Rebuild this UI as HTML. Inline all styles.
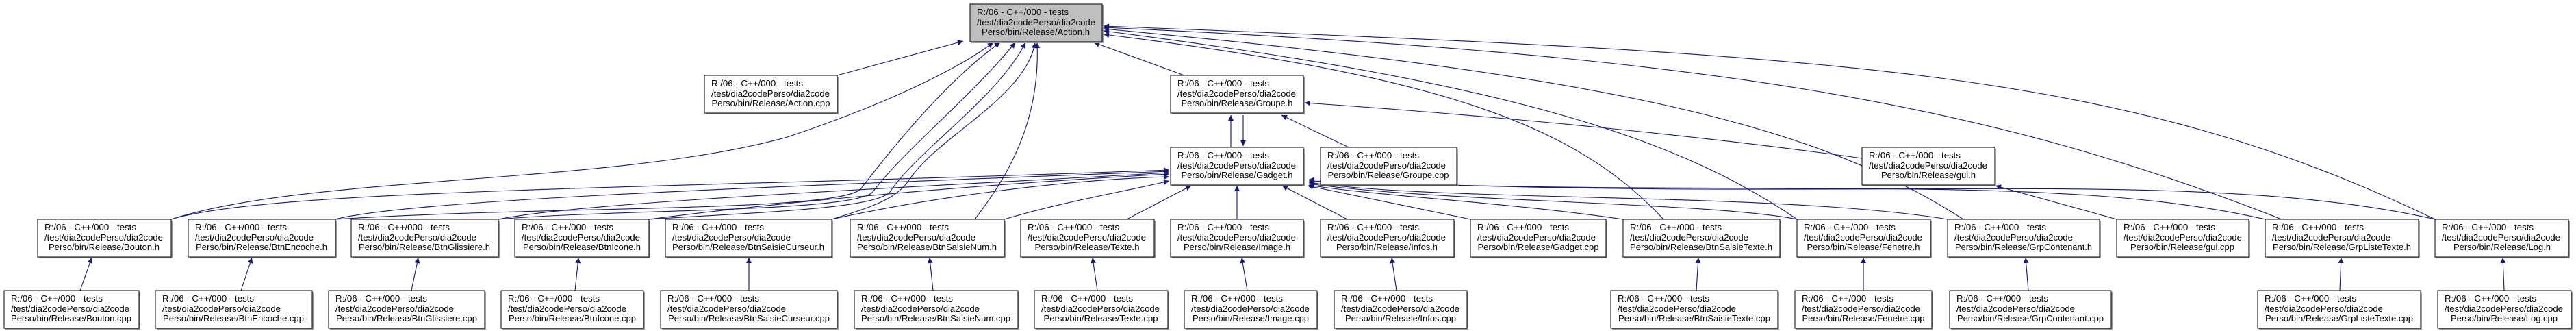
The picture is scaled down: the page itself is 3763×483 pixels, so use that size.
<!DOCTYPE html>
<html><head><meta charset="utf-8"><style>
html,body{margin:0;padding:0;background:#fff;}
svg{display:block;}
text{font-family:"Liberation Sans",sans-serif;font-size:13px;fill:#000;}
</style></head><body>
<svg width="3763" height="483" viewBox="0 0 3763 483" xmlns="http://www.w3.org/2000/svg">
<defs>
<marker id="a" viewBox="0 0 10 10" refX="10" refY="5" markerWidth="10" markerHeight="8" markerUnits="userSpaceOnUse" orient="auto"><path d="M0,0 L10,5 L0,10 z" fill="#191970"/></marker>
</defs>
<g fill="none" stroke="#191970" stroke-width="1.1" marker-end="url(#a)">
<!-- to Action.h -->
<path d="M1223,110 L1407,60"/>
<path d="M250,320 C450,255 900,270 1150,200 C1300,150 1400,100 1451,62"/>
<path d="M490,320 C800,300 1230,310 1258,275 C1300,220 1380,120 1461,62"/>
<path d="M728,320 C900,305 1250,310 1275,280 C1320,220 1420,140 1483,62"/>
<path d="M948,320 C1100,310 1280,305 1300,280 C1340,220 1460,140 1498,62"/>
<path d="M1215,320 C1280,300 1310,290 1330,260 C1370,200 1500,140 1512,62"/>
<path d="M1424,320 C1470,260 1520,180 1515,62"/>
<path d="M1730,110 L1598,62"/>
<path d="M2430,320 C2300,180 2100,110 1612,50"/>
<path d="M2625,320 C2450,200 2200,120 1612,45"/>
<path d="M2868,320 C2650,180 2350,110 1612,42"/>
<path d="M3333,320 C2900,150 2500,80 1612,40"/>
<path d="M3557,320 C3100,100 2700,80 1612,38"/>
<!-- Groupe -->
<path d="M1798,215 L1798,168"/>
<path d="M1816,168 L1816,213"/>
<path d="M1970,215 L1872,168"/>
<path d="M2720,231 C2500,200 2200,170 1906,150"/>
<path d="M3092,320 L2915,271"/>
<!-- to Gadget.h -->
<path d="M250,320 C400,275 1000,275 1708,248"/>
<path d="M490,320 C600,290 1200,270 1708,250"/>
<path d="M728,320 C850,295 1300,275 1708,252"/>
<path d="M948,320 C1100,300 1400,270 1708,254"/>
<path d="M1215,320 C1350,290 1550,262 1708,258"/>
<path d="M1467,320 C1550,295 1650,278 1708,264"/>
<path d="M1646,320 L1740,271"/>
<path d="M1807,320 L1807,271"/>
<path d="M1968,320 L1873,271"/>
<path d="M2148,320 L1910,271"/>
<path d="M2371,320 C2200,295 2000,285 1912,270"/>
<path d="M2625,320 C2500,295 2100,295 1912,268"/>
<path d="M2845,320 C2600,280 2100,295 1912,266"/>
<path d="M3309,320 C3000,250 2600,290 1912,264"/>
<path d="M3557,320 C3200,240 2700,300 1912,262"/>
<!-- cpp to h -->
<path d="M117,424 L134,376"/>
<path d="M352,424 L368,376"/>
<path d="M601,424 L611,376"/>
<path d="M840,424 L845,376"/>
<path d="M1094,424 L1094,376"/>
<path d="M1363,424 L1358,376"/>
<path d="M1603,424 L1596,376"/>
<path d="M1822,424 L1814,376"/>
<path d="M2040,424 L2033,376"/>
<path d="M2478,424 L2481,376"/>
<path d="M2722,424 L2722,376"/>
<path d="M2963,424 L2959,376"/>
<path d="M3418,424 L3420,376"/>
<path d="M3658,424 L3656,376"/>
</g>
<g id="nodes">
<!-- node helper: shadow + rect -->
<g fill="#999"><rect x="1419" y="8" width="193" height="55"/></g>
<rect x="1417" y="6" width="193" height="55" fill="#bfbfbf" stroke="#000"/>
<text x="1427" y="22" textLength="134" lengthAdjust="spacingAndGlyphs">R:/06 - C++/000 - tests</text>
<text x="1427" y="37" textLength="173" lengthAdjust="spacingAndGlyphs">/test/dia2codePerso/dia2code</text>
<text x="1513" y="51" text-anchor="middle" textLength="158" lengthAdjust="spacingAndGlyphs">Perso/bin/Release/Action.h</text>
</g>
<g>
<g fill="#999">
<rect x="1031" y="112" width="194" height="55"/><rect x="1712" y="112" width="194" height="55"/>
<rect x="1712" y="217" width="194" height="55"/><rect x="1931" y="217" width="199" height="55"/><rect x="2722" y="217" width="194" height="55"/>
<rect x="57" y="322" width="195" height="55"/><rect x="277" y="322" width="215" height="55"/><rect x="515" y="322" width="215" height="55"/><rect x="754" y="322" width="196" height="55"/><rect x="974" y="322" width="243" height="55"/><rect x="1244" y="322" width="225" height="55"/><rect x="1493" y="322" width="195" height="55"/><rect x="1712" y="322" width="194" height="55"/><rect x="1931" y="322" width="195" height="55"/><rect x="2150" y="322" width="198" height="55"/><rect x="2373" y="322" width="229" height="55"/><rect x="2627" y="322" width="195" height="55"/><rect x="2847" y="322" width="222" height="55"/><rect x="3094" y="322" width="193" height="55"/><rect x="3311" y="322" width="224" height="55"/><rect x="3559" y="322" width="195" height="55"/>
<rect x="8" y="426" width="197" height="55"/><rect x="229" y="426" width="229" height="55"/><rect x="482" y="426" width="228" height="55"/><rect x="734" y="426" width="208" height="55"/><rect x="967" y="426" width="258" height="55"/><rect x="1250" y="426" width="239" height="55"/><rect x="1513" y="426" width="195" height="55"/><rect x="1732" y="426" width="194" height="55"/><rect x="1951" y="426" width="194" height="55"/><rect x="2355" y="426" width="244" height="55"/><rect x="2624" y="426" width="200" height="55"/><rect x="2850" y="426" width="236" height="55"/><rect x="3300" y="426" width="238" height="55"/><rect x="3563" y="426" width="195" height="55"/>
</g>
<g fill="#fff" stroke="#000">
<rect x="1029" y="110" width="194" height="55"/><rect x="1710" y="110" width="194" height="55"/>
<rect x="1710" y="215" width="194" height="55"/><rect x="1929" y="215" width="199" height="55"/><rect x="2720" y="215" width="194" height="55"/>
<rect x="55" y="320" width="195" height="55"/><rect x="275" y="320" width="215" height="55"/><rect x="513" y="320" width="215" height="55"/><rect x="752" y="320" width="196" height="55"/><rect x="972" y="320" width="243" height="55"/><rect x="1242" y="320" width="225" height="55"/><rect x="1491" y="320" width="195" height="55"/><rect x="1710" y="320" width="194" height="55"/><rect x="1929" y="320" width="195" height="55"/><rect x="2148" y="320" width="198" height="55"/><rect x="2371" y="320" width="229" height="55"/><rect x="2625" y="320" width="195" height="55"/><rect x="2845" y="320" width="222" height="55"/><rect x="3092" y="320" width="193" height="55"/><rect x="3309" y="320" width="224" height="55"/><rect x="3557" y="320" width="195" height="55"/>
<rect x="6" y="424" width="197" height="55"/><rect x="227" y="424" width="229" height="55"/><rect x="480" y="424" width="228" height="55"/><rect x="732" y="424" width="208" height="55"/><rect x="965" y="424" width="258" height="55"/><rect x="1248" y="424" width="239" height="55"/><rect x="1511" y="424" width="195" height="55"/><rect x="1730" y="424" width="194" height="55"/><rect x="1949" y="424" width="194" height="55"/><rect x="2353" y="424" width="244" height="55"/><rect x="2622" y="424" width="200" height="55"/><rect x="2848" y="424" width="236" height="55"/><rect x="3298" y="424" width="238" height="55"/><rect x="3561" y="424" width="195" height="55"/>
</g>
</g>
<g font-size="13">
<!-- row2 -->
<text x="1039" y="126" textLength="134" lengthAdjust="spacingAndGlyphs">R:/06 - C++/000 - tests</text><text x="1039" y="141" textLength="173" lengthAdjust="spacingAndGlyphs">/test/dia2codePerso/dia2code</text><text x="1126" y="155" text-anchor="middle" textLength="173" lengthAdjust="spacingAndGlyphs">Perso/bin/Release/Action.cpp</text>
<text x="1720" y="126" textLength="134" lengthAdjust="spacingAndGlyphs">R:/06 - C++/000 - tests</text><text x="1720" y="141" textLength="173" lengthAdjust="spacingAndGlyphs">/test/dia2codePerso/dia2code</text><text x="1807" y="155" text-anchor="middle" textLength="163" lengthAdjust="spacingAndGlyphs">Perso/bin/Release/Groupe.h</text>
<!-- row 2.5 -->
<text x="1720" y="231" textLength="134" lengthAdjust="spacingAndGlyphs">R:/06 - C++/000 - tests</text><text x="1720" y="246" textLength="173" lengthAdjust="spacingAndGlyphs">/test/dia2codePerso/dia2code</text><text x="1807" y="260" text-anchor="middle" textLength="163" lengthAdjust="spacingAndGlyphs">Perso/bin/Release/Gadget.h</text>
<text x="1939" y="231" textLength="134" lengthAdjust="spacingAndGlyphs">R:/06 - C++/000 - tests</text><text x="1939" y="246" textLength="173" lengthAdjust="spacingAndGlyphs">/test/dia2codePerso/dia2code</text><text x="2028" y="260" text-anchor="middle" textLength="177" lengthAdjust="spacingAndGlyphs">Perso/bin/Release/Groupe.cpp</text>
<text x="2730" y="231" textLength="134" lengthAdjust="spacingAndGlyphs">R:/06 - C++/000 - tests</text><text x="2730" y="246" textLength="173" lengthAdjust="spacingAndGlyphs">/test/dia2codePerso/dia2code</text><text x="2817" y="260" text-anchor="middle" textLength="138" lengthAdjust="spacingAndGlyphs">Perso/bin/Release/gui.h</text>
<!-- row3 -->
<text x="65" y="336" textLength="134" lengthAdjust="spacingAndGlyphs">R:/06 - C++/000 - tests</text><text x="65" y="351" textLength="173" lengthAdjust="spacingAndGlyphs">/test/dia2codePerso/dia2code</text><text x="152" y="365" text-anchor="middle" textLength="162" lengthAdjust="spacingAndGlyphs">Perso/bin/Release/Bouton.h</text>
<text x="285" y="336" textLength="134" lengthAdjust="spacingAndGlyphs">R:/06 - C++/000 - tests</text><text x="285" y="351" textLength="173" lengthAdjust="spacingAndGlyphs">/test/dia2codePerso/dia2code</text><text x="382" y="365" text-anchor="middle" textLength="192" lengthAdjust="spacingAndGlyphs">Perso/bin/Release/BtnEncoche.h</text>
<text x="523" y="336" textLength="134" lengthAdjust="spacingAndGlyphs">R:/06 - C++/000 - tests</text><text x="523" y="351" textLength="173" lengthAdjust="spacingAndGlyphs">/test/dia2codePerso/dia2code</text><text x="620" y="365" text-anchor="middle" textLength="192" lengthAdjust="spacingAndGlyphs">Perso/bin/Release/BtnGlissiere.h</text>
<text x="762" y="336" textLength="134" lengthAdjust="spacingAndGlyphs">R:/06 - C++/000 - tests</text><text x="762" y="351" textLength="173" lengthAdjust="spacingAndGlyphs">/test/dia2codePerso/dia2code</text><text x="850" y="365" text-anchor="middle" textLength="172" lengthAdjust="spacingAndGlyphs">Perso/bin/Release/BtnIcone.h</text>
<text x="982" y="336" textLength="134" lengthAdjust="spacingAndGlyphs">R:/06 - C++/000 - tests</text><text x="982" y="351" textLength="173" lengthAdjust="spacingAndGlyphs">/test/dia2codePerso/dia2code</text><text x="1093" y="365" text-anchor="middle" textLength="222" lengthAdjust="spacingAndGlyphs">Perso/bin/Release/BtnSaisieCurseur.h</text>
<text x="1252" y="336" textLength="134" lengthAdjust="spacingAndGlyphs">R:/06 - C++/000 - tests</text><text x="1252" y="351" textLength="173" lengthAdjust="spacingAndGlyphs">/test/dia2codePerso/dia2code</text><text x="1354" y="365" text-anchor="middle" textLength="204" lengthAdjust="spacingAndGlyphs">Perso/bin/Release/BtnSaisieNum.h</text>
<text x="1501" y="336" textLength="134" lengthAdjust="spacingAndGlyphs">R:/06 - C++/000 - tests</text><text x="1501" y="351" textLength="173" lengthAdjust="spacingAndGlyphs">/test/dia2codePerso/dia2code</text><text x="1588" y="365" text-anchor="middle" textLength="153" lengthAdjust="spacingAndGlyphs">Perso/bin/Release/Texte.h</text>
<text x="1720" y="336" textLength="134" lengthAdjust="spacingAndGlyphs">R:/06 - C++/000 - tests</text><text x="1720" y="351" textLength="173" lengthAdjust="spacingAndGlyphs">/test/dia2codePerso/dia2code</text><text x="1807" y="365" text-anchor="middle" textLength="156" lengthAdjust="spacingAndGlyphs">Perso/bin/Release/Image.h</text>
<text x="1939" y="336" textLength="134" lengthAdjust="spacingAndGlyphs">R:/06 - C++/000 - tests</text><text x="1939" y="351" textLength="173" lengthAdjust="spacingAndGlyphs">/test/dia2codePerso/dia2code</text><text x="2026" y="365" text-anchor="middle" textLength="148" lengthAdjust="spacingAndGlyphs">Perso/bin/Release/Infos.h</text>
<text x="2158" y="336" textLength="134" lengthAdjust="spacingAndGlyphs">R:/06 - C++/000 - tests</text><text x="2158" y="351" textLength="173" lengthAdjust="spacingAndGlyphs">/test/dia2codePerso/dia2code</text><text x="2247" y="365" text-anchor="middle" textLength="177" lengthAdjust="spacingAndGlyphs">Perso/bin/Release/Gadget.cpp</text>
<text x="2381" y="336" textLength="134" lengthAdjust="spacingAndGlyphs">R:/06 - C++/000 - tests</text><text x="2381" y="351" textLength="173" lengthAdjust="spacingAndGlyphs">/test/dia2codePerso/dia2code</text><text x="2485" y="365" text-anchor="middle" textLength="208" lengthAdjust="spacingAndGlyphs">Perso/bin/Release/BtnSaisieTexte.h</text>
<text x="2635" y="336" textLength="134" lengthAdjust="spacingAndGlyphs">R:/06 - C++/000 - tests</text><text x="2635" y="351" textLength="173" lengthAdjust="spacingAndGlyphs">/test/dia2codePerso/dia2code</text><text x="2722" y="365" text-anchor="middle" textLength="165" lengthAdjust="spacingAndGlyphs">Perso/bin/Release/Fenetre.h</text>
<text x="2855" y="336" textLength="134" lengthAdjust="spacingAndGlyphs">R:/06 - C++/000 - tests</text><text x="2855" y="351" textLength="173" lengthAdjust="spacingAndGlyphs">/test/dia2codePerso/dia2code</text><text x="2956" y="365" text-anchor="middle" textLength="200" lengthAdjust="spacingAndGlyphs">Perso/bin/Release/GrpContenant.h</text>
<text x="3102" y="336" textLength="134" lengthAdjust="spacingAndGlyphs">R:/06 - C++/000 - tests</text><text x="3102" y="351" textLength="173" lengthAdjust="spacingAndGlyphs">/test/dia2codePerso/dia2code</text><text x="3188" y="365" text-anchor="middle" textLength="152" lengthAdjust="spacingAndGlyphs">Perso/bin/Release/gui.cpp</text>
<text x="3319" y="336" textLength="134" lengthAdjust="spacingAndGlyphs">R:/06 - C++/000 - tests</text><text x="3319" y="351" textLength="173" lengthAdjust="spacingAndGlyphs">/test/dia2codePerso/dia2code</text><text x="3421" y="365" text-anchor="middle" textLength="202" lengthAdjust="spacingAndGlyphs">Perso/bin/Release/GrpListeTexte.h</text>
<text x="3567" y="336" textLength="134" lengthAdjust="spacingAndGlyphs">R:/06 - C++/000 - tests</text><text x="3567" y="351" textLength="173" lengthAdjust="spacingAndGlyphs">/test/dia2codePerso/dia2code</text><text x="3655" y="365" text-anchor="middle" textLength="142" lengthAdjust="spacingAndGlyphs">Perso/bin/Release/Log.h</text>
<!-- row4 -->
<text x="16" y="440" textLength="134" lengthAdjust="spacingAndGlyphs">R:/06 - C++/000 - tests</text><text x="16" y="455" textLength="173" lengthAdjust="spacingAndGlyphs">/test/dia2codePerso/dia2code</text><text x="104" y="469" text-anchor="middle" textLength="176" lengthAdjust="spacingAndGlyphs">Perso/bin/Release/Bouton.cpp</text>
<text x="237" y="440" textLength="134" lengthAdjust="spacingAndGlyphs">R:/06 - C++/000 - tests</text><text x="237" y="455" textLength="173" lengthAdjust="spacingAndGlyphs">/test/dia2codePerso/dia2code</text><text x="341" y="469" text-anchor="middle" textLength="206" lengthAdjust="spacingAndGlyphs">Perso/bin/Release/BtnEncoche.cpp</text>
<text x="490" y="440" textLength="134" lengthAdjust="spacingAndGlyphs">R:/06 - C++/000 - tests</text><text x="490" y="455" textLength="173" lengthAdjust="spacingAndGlyphs">/test/dia2codePerso/dia2code</text><text x="594" y="469" text-anchor="middle" textLength="206" lengthAdjust="spacingAndGlyphs">Perso/bin/Release/BtnGlissiere.cpp</text>
<text x="742" y="440" textLength="134" lengthAdjust="spacingAndGlyphs">R:/06 - C++/000 - tests</text><text x="742" y="455" textLength="173" lengthAdjust="spacingAndGlyphs">/test/dia2codePerso/dia2code</text><text x="836" y="469" text-anchor="middle" textLength="186" lengthAdjust="spacingAndGlyphs">Perso/bin/Release/BtnIcone.cpp</text>
<text x="975" y="440" textLength="134" lengthAdjust="spacingAndGlyphs">R:/06 - C++/000 - tests</text><text x="975" y="455" textLength="173" lengthAdjust="spacingAndGlyphs">/test/dia2codePerso/dia2code</text><text x="1094" y="469" text-anchor="middle" textLength="236" lengthAdjust="spacingAndGlyphs">Perso/bin/Release/BtnSaisieCurseur.cpp</text>
<text x="1258" y="440" textLength="134" lengthAdjust="spacingAndGlyphs">R:/06 - C++/000 - tests</text><text x="1258" y="455" textLength="173" lengthAdjust="spacingAndGlyphs">/test/dia2codePerso/dia2code</text><text x="1367" y="469" text-anchor="middle" textLength="218" lengthAdjust="spacingAndGlyphs">Perso/bin/Release/BtnSaisieNum.cpp</text>
<text x="1521" y="440" textLength="134" lengthAdjust="spacingAndGlyphs">R:/06 - C++/000 - tests</text><text x="1521" y="455" textLength="173" lengthAdjust="spacingAndGlyphs">/test/dia2codePerso/dia2code</text><text x="1608" y="469" text-anchor="middle" textLength="167" lengthAdjust="spacingAndGlyphs">Perso/bin/Release/Texte.cpp</text>
<text x="1740" y="440" textLength="134" lengthAdjust="spacingAndGlyphs">R:/06 - C++/000 - tests</text><text x="1740" y="455" textLength="173" lengthAdjust="spacingAndGlyphs">/test/dia2codePerso/dia2code</text><text x="1827" y="469" text-anchor="middle" textLength="170" lengthAdjust="spacingAndGlyphs">Perso/bin/Release/Image.cpp</text>
<text x="1959" y="440" textLength="134" lengthAdjust="spacingAndGlyphs">R:/06 - C++/000 - tests</text><text x="1959" y="455" textLength="173" lengthAdjust="spacingAndGlyphs">/test/dia2codePerso/dia2code</text><text x="2046" y="469" text-anchor="middle" textLength="162" lengthAdjust="spacingAndGlyphs">Perso/bin/Release/Infos.cpp</text>
<text x="2363" y="440" textLength="134" lengthAdjust="spacingAndGlyphs">R:/06 - C++/000 - tests</text><text x="2363" y="455" textLength="173" lengthAdjust="spacingAndGlyphs">/test/dia2codePerso/dia2code</text><text x="2475" y="469" text-anchor="middle" textLength="222" lengthAdjust="spacingAndGlyphs">Perso/bin/Release/BtnSaisieTexte.cpp</text>
<text x="2632" y="440" textLength="134" lengthAdjust="spacingAndGlyphs">R:/06 - C++/000 - tests</text><text x="2632" y="455" textLength="173" lengthAdjust="spacingAndGlyphs">/test/dia2codePerso/dia2code</text><text x="2722" y="469" text-anchor="middle" textLength="179" lengthAdjust="spacingAndGlyphs">Perso/bin/Release/Fenetre.cpp</text>
<text x="2858" y="440" textLength="134" lengthAdjust="spacingAndGlyphs">R:/06 - C++/000 - tests</text><text x="2858" y="455" textLength="173" lengthAdjust="spacingAndGlyphs">/test/dia2codePerso/dia2code</text><text x="2966" y="469" text-anchor="middle" textLength="214" lengthAdjust="spacingAndGlyphs">Perso/bin/Release/GrpContenant.cpp</text>
<text x="3308" y="440" textLength="134" lengthAdjust="spacingAndGlyphs">R:/06 - C++/000 - tests</text><text x="3308" y="455" textLength="173" lengthAdjust="spacingAndGlyphs">/test/dia2codePerso/dia2code</text><text x="3417" y="469" text-anchor="middle" textLength="216" lengthAdjust="spacingAndGlyphs">Perso/bin/Release/GrpListeTexte.cpp</text>
<text x="3571" y="440" textLength="134" lengthAdjust="spacingAndGlyphs">R:/06 - C++/000 - tests</text><text x="3571" y="455" textLength="173" lengthAdjust="spacingAndGlyphs">/test/dia2codePerso/dia2code</text><text x="3658" y="469" text-anchor="middle" textLength="156" lengthAdjust="spacingAndGlyphs">Perso/bin/Release/Log.cpp</text>
</g>
</svg>
</body></html>
